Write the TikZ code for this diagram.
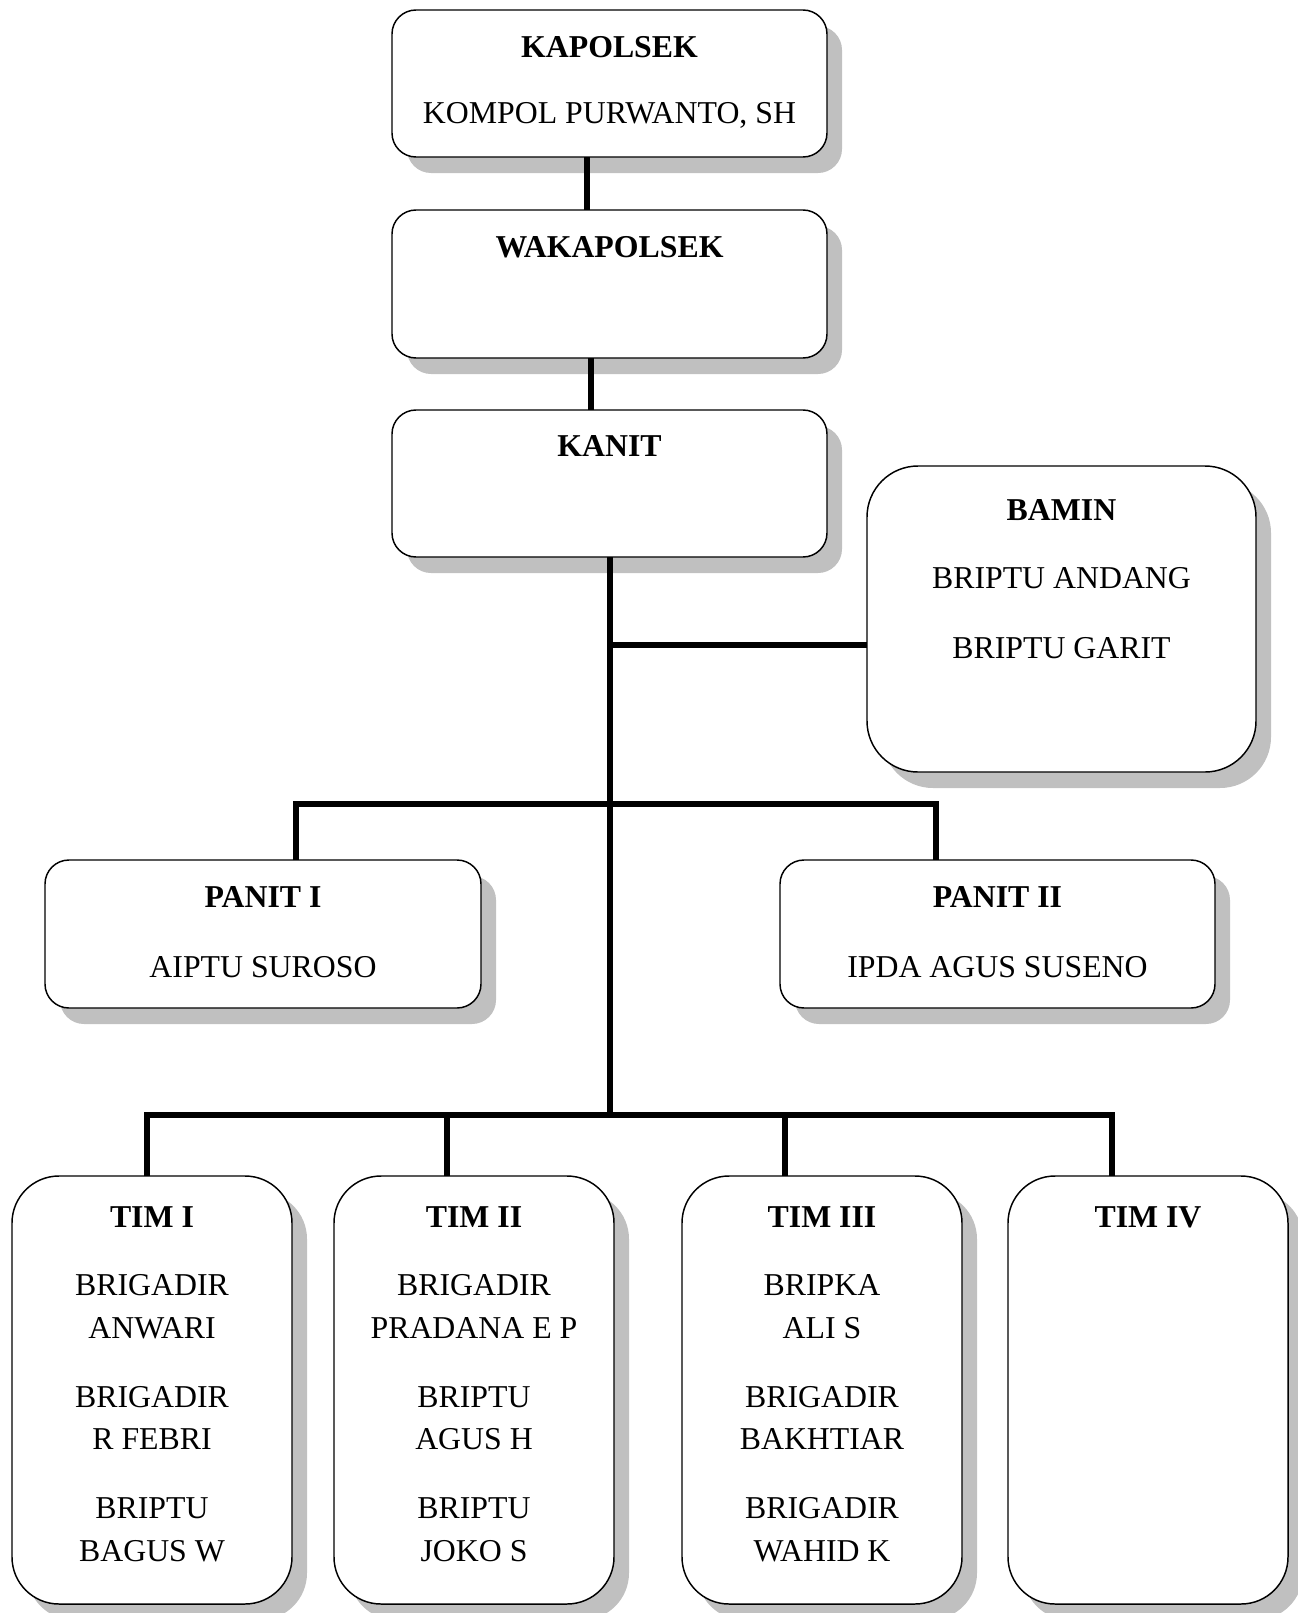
\documentclass[tikz,border=0pt]{standalone}
\usepackage{fontspec}
\setmainfont{Liberation Serif}
\usetikzlibrary{shadows}
\definecolor{shgray}{RGB}{192,192,192}
\tikzset{
  orgbox/.style={draw=black, line width=1.1pt, fill=white, inner sep=0pt, outer sep=0pt,
    drop shadow={shadow xshift=11.25pt, shadow yshift=-12pt, fill=shgray, opacity=1, draw=none}},
  txt/.style={anchor=base, inner sep=0pt, outer sep=0pt, font=\fontsize{23.85pt}{30pt}\selectfont},
  conn/.style={line width=3.9pt, line join=miter, line cap=butt}
}
\newcommand\orgbox[6]{%
  \node[orgbox, minimum width={(#4-#2)*0.75pt}, minimum height={(#5-#3)*0.75pt},
        rounded corners={#6*0.75pt}] (#1) at ({(#2+#4)/2},{(#3+#5)/2}) {};}
\newcommand\orgline[4]{\node[txt] (#1) at (#2,#3) {#4};}
\begin{document}
\begin{tikzpicture}[x=0.75pt,y=-0.75pt]
\fill[white] (0,0) rectangle (1298,1613);
\useasboundingbox (0,0) rectangle (1298,1613);

% boxes
\orgbox{kapolsek}{392}{10}{827}{157}{24}
\orgbox{waka}{392}{210}{827}{358}{24}
\orgbox{kanit}{392}{410}{827}{557}{24}
\orgbox{bamin}{867}{466}{1256}{772}{51}
\orgbox{panit1}{45}{860}{481}{1008}{24}
\orgbox{panit2}{780}{860}{1215}{1008}{24}
\orgbox{tim1}{12}{1176}{292}{1604}{47}
\orgbox{tim2}{334}{1176}{614}{1604}{47}
\orgbox{tim3}{682}{1176}{962}{1604}{47}
\orgbox{tim4}{1008}{1176}{1288}{1604}{47}

% texts
\orgline{ka1}{609.5}{57.6}{\textbf{KAPOLSEK}}
\orgline{ka2}{609.5}{123.6}{KOMPOL PURWANTO, SH}
\orgline{wa1}{609.5}{257.6}{\textbf{WAKAPOLSEK}}
\orgline{kn1}{609.5}{456.6}{\textbf{KANIT}}
\orgline{ba1}{1061.5}{520.6}{\textbf{BAMIN}}
\orgline{ba2}{1061.5}{588.6}{BRIPTU ANDANG}
\orgline{ba3}{1061.5}{658.6}{BRIPTU GARIT}
\orgline{p11}{263}{907.6}{\textbf{PANIT I}}
\orgline{p12}{263}{977.6}{AIPTU SUROSO}
\orgline{p21}{997.5}{907.6}{\textbf{PANIT II}}
\orgline{p22}{997.5}{977.6}{IPDA AGUS SUSENO}

\orgline{a0}{152}{1227.6}{\textbf{TIM I}}
\orgline{a1}{152}{1295.6}{BRIGADIR}
\orgline{a2}{152}{1338.6}{ANWARI}
\orgline{a3}{152}{1407.6}{BRIGADIR}
\orgline{a4}{152}{1449.6}{R FEBRI}
\orgline{a5}{152}{1518.6}{BRIPTU}
\orgline{a6}{152}{1561.6}{BAGUS W}

\orgline{b0}{474}{1227.6}{\textbf{TIM II}}
\orgline{b1}{474}{1295.6}{BRIGADIR}
\orgline{b2}{474}{1338.6}{PRADANA E P}
\orgline{b3}{474}{1407.6}{BRIPTU}
\orgline{b4}{474}{1449.6}{AGUS H}
\orgline{b5}{474}{1518.6}{BRIPTU}
\orgline{b6}{474}{1561.6}{JOKO S}

\orgline{c0}{822}{1227.6}{\textbf{TIM III}}
\orgline{c1}{822}{1295.6}{BRIPKA}
\orgline{c2}{822}{1338.6}{ALI S}
\orgline{c3}{822}{1407.6}{BRIGADIR}
\orgline{c4}{822}{1449.6}{BAKHTIAR}
\orgline{c5}{822}{1518.6}{BRIGADIR}
\orgline{c6}{822}{1561.6}{WAHID K}

\orgline{d0}{1148}{1227.6}{\textbf{TIM IV}}

% connector coordinates
\coordinate (x1) at (587,0);
\coordinate (x2) at (591,0);
\coordinate (m) at (610,645);
\coordinate (tj) at (610,1115);
\coordinate (pl) at (296,804);
\coordinate (pr) at (936,804);
\coordinate (tl) at (147,1115);
\coordinate (tr) at (1112,1115);
\coordinate (t2) at (447,1115);
\coordinate (t3) at (785,1115);

% connectors
\draw[conn] (kapolsek.south -| x1) -- (waka.north -| x1);
\draw[conn] (waka.south -| x2) -- (kanit.north -| x2);
\draw[conn] (kanit.south -| m) -- (tj);
\draw[conn] (m) -- (m -| bamin.west);
\draw[conn] (panit1.north -| pl) -- (pl) -- (pr) -- (panit2.north -| pr);
\draw[conn] (tim1.north -| tl) -- (tl) -- (tr) -- (tim4.north -| tr);
\draw[conn] (t2) -- (tim2.north -| t2);
\draw[conn] (t3) -- (tim3.north -| t3);
\end{tikzpicture}
\end{document}
